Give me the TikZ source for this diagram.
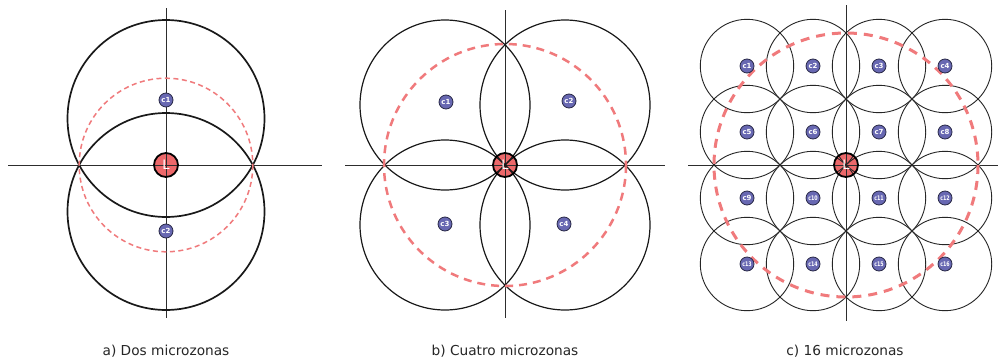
\documentclass[tikz,border=0pt]{standalone}
\usepackage{fontspec}
\setmainfont{DejaVu Sans}
\usetikzlibrary{calc}
\definecolor{lred}{RGB}{236,104,106}
\definecolor{dred}{RGB}{240,122,124}
\definecolor{mblue}{RGB}{104,104,178}
\definecolor{cborder}{RGB}{40,40,70}
\definecolor{axisc}{RGB}{45,45,45}
\begin{document}
\begin{tikzpicture}[x=1pt,y=-1pt,
  lfill/.style={circle, fill=lred, minimum size=24pt, inner sep=0pt},
  ltext/.style={circle, draw=black, line width=1.8pt, minimum size=24pt, inner sep=0pt, text=white, font=\fontsize{13}{13}\selectfont},
  cmark/.style={circle, fill=mblue, draw=cborder, line width=0.8pt, minimum size=14pt, inner sep=0pt, text=white, font=\bfseries\fontsize{7}{7}\selectfont},
  axisline/.style={line width=1pt, draw=axisc},
  zonea/.style={draw=black!90, line width=1.7pt},
  zoneb/.style={draw=black!90, line width=1.2pt},
  zonec/.style={draw=black!85, line width=0.9pt},
  dasha/.style={draw=dred, line width=1.5pt, dash pattern=on 5pt off 3.5pt},
  dashb/.style={draw=dred, line width=2.5pt, dash pattern=on 8pt off 6pt},
  dashc/.style={draw=dred, line width=3pt, dash pattern=on 9pt off 7pt},
  caption/.style={font=\fontsize{13.7}{14}\selectfont, text=black!85, inner sep=0pt}]
\useasboundingbox (0,0) rectangle (998,362);
\fill[white] (0,0) rectangle (998,362);

% ---------------- panel a ----------------
\coordinate (La) at (166,165);
\node[lfill] (Lafill) at (La) {};
\coordinate (a-l) at (8,165);
\coordinate (a-r) at (322,165);
\coordinate (a-t) at (166,8);
\coordinate (a-b) at (166,318);
\draw[axisline] (a-l) -- (a-r);
\draw[axisline] (a-t) -- (a-b);
\coordinate (a-c1) at (166,118.5);
\coordinate (a-c2) at (166,211.5);
\draw[zonea] (a-c1) circle (98.5);
\draw[zonea] (a-c2) circle (98.5);
\draw[dasha] (La) circle (86.8);
\node[cmark] (ac1) at (166,100) {c1};
\node[cmark] (ac2) at (166,231) {c2};
\node[ltext] (Lat) at (La) {L};
\node[caption] (capa) at (166,351) {a) Dos microzonas};

% ---------------- panel b ----------------
\coordinate (Lb) at (505,165);
\node[lfill] (Lbfill) at (Lb) {};
\coordinate (b-l) at (345,165);
\coordinate (b-r) at (665,165);
\coordinate (b-t) at (505,10);
\coordinate (b-b) at (505,318);
\draw[axisline] (b-l) -- (b-r);
\draw[axisline] (b-t) -- (b-b);
\foreach \dx/\dy in {-60/-60, 60/-60, -60/60, 60/60}{
  \draw[zoneb] ($(Lb)+(\dx,\dy)$) circle (85);
}
\draw[dashb] (Lb) circle (121);
\node[cmark] (bc1) at (446,102) {c1};
\node[cmark] (bc2) at (569,101) {c2};
\node[cmark] (bc3) at (445,224) {c3};
\node[cmark] (bc4) at (564,224) {c4};
\node[ltext] (Lbt) at (Lb) {L};
\node[caption] (capb) at (505,351) {b) Cuatro microzonas};

% ---------------- panel c ----------------
\coordinate (Lc) at (846,165);
\node[lfill] (Lcfill) at (Lc) {};
\coordinate (c-l) at (688,165);
\coordinate (c-r) at (998,165);
\coordinate (c-t) at (846,5);
\coordinate (c-b) at (846,321);
\draw[axisline] (c-l) -- (c-r);
\draw[axisline] (c-t) -- (c-b);
\foreach \dy in {-99,-33,33,99}{
  \foreach \dx in {-99,-33,33,99}{
    \draw[zonec] ($(Lc)+(\dx,\dy)$) circle (46.7);
  }
}
\draw[dashc] (Lc) circle (132);
\foreach \n/\dx/\dy in {1/-99/-99, 2/-33/-99, 3/33/-99, 4/99/-99,
                        5/-99/-33, 6/-33/-33, 7/33/-33, 8/99/-33,
                        9/-99/33}{
  \node[cmark] (cc\n) at ($(Lc)+(\dx,\dy)$) {c\n};
}
\foreach \n/\dx/\dy in {10/-33/33, 11/33/33, 12/99/33,
                        13/-99/99, 14/-33/99, 15/33/99, 16/99/99}{
  \node[cmark] (cc\n) at ($(Lc)+(\dx,\dy)$) {\scalebox{0.68}[0.9]{c\n}};
}
\node[ltext] (Lct) at (Lc) {L};
\node[caption] (capc) at (845,351) {c) 16 microzonas};
\end{tikzpicture}
\end{document}
